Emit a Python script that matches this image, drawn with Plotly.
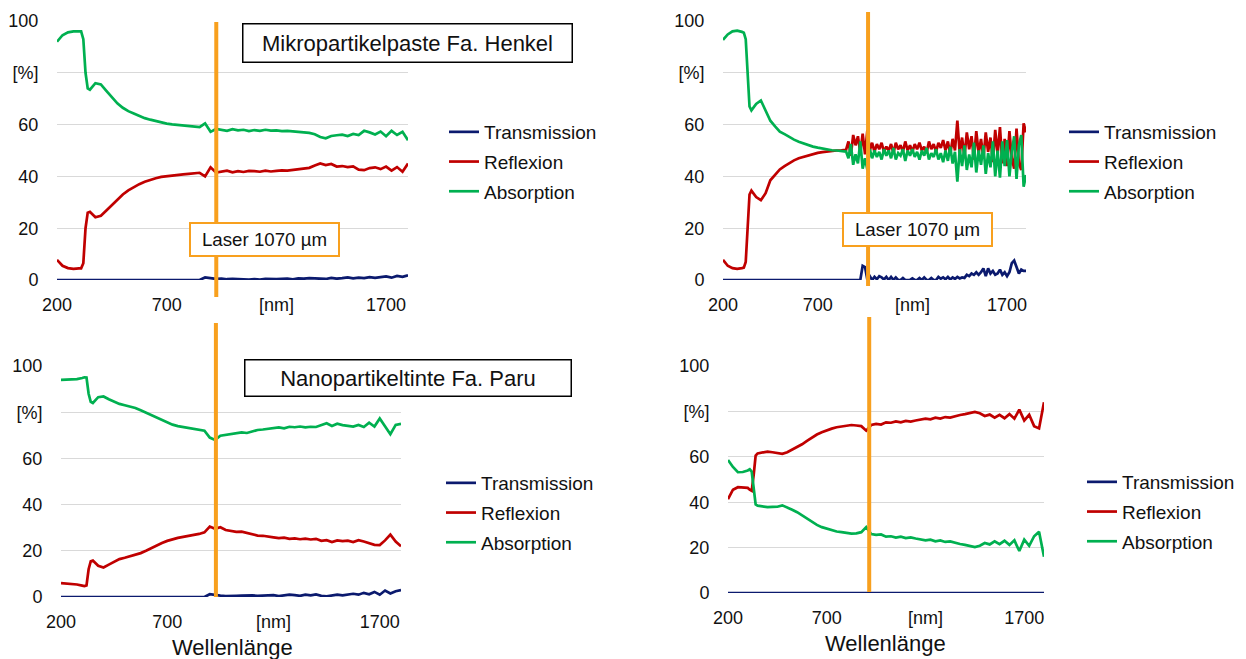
import plotly.graph_objects as go

W, H = 1246, 659

# wavelength grid for panels 1, 3, 4
wl_a = [200, 225, 250, 275, 300, 310, 320, 330, 340, 350,
        375, 400, 425, 450, 475, 500, 525, 550, 575, 600,
        625, 650, 675, 700, 725, 750, 775, 800, 825, 850,
        875, 900, 925, 950, 975, 1000, 1025, 1050, 1075, 1100,
        1125, 1150, 1175, 1200, 1225, 1250, 1275, 1300, 1325, 1350,
        1375, 1400, 1425, 1450, 1475, 1500, 1525, 1550, 1575, 1600,
        1625, 1650, 1675, 1700, 1725, 1750, 1775, 1800]

# wavelength grid for panel 2 (finer in the noisy range)
wl_b = [200, 225, 250, 275, 300, 310, 320, 330, 340, 350,
        375, 400, 425, 450, 475, 500, 525, 550, 575, 600,
        625, 650, 675, 700, 725, 750, 775, 800, 825,
        850, 862.5, 875, 887.5, 900, 912.5, 925, 937.5, 950, 962.5,
        975, 987.5, 1000, 1012.5, 1025, 1037.5, 1050, 1062.5, 1075, 1087.5,
        1100, 1112.5, 1125, 1137.5, 1150, 1162.5, 1175, 1187.5, 1200, 1212.5,
        1225, 1237.5, 1250, 1262.5, 1275, 1287.5, 1300, 1312.5, 1325, 1337.5,
        1350, 1362.5, 1375, 1387.5, 1400, 1412.5, 1425, 1437.5, 1450, 1462.5,
        1475, 1487.5, 1500, 1512.5, 1525, 1537.5, 1550, 1562.5, 1575, 1587.5,
        1600, 1612.5, 1625, 1637.5, 1650, 1662.5, 1675, 1687.5, 1700, 1712.5,
        1725, 1737.5, 1750, 1762.5, 1775, 1787.5, 1800]

# Panel 1: Mikropartikelpaste Fa. Henkel
trans_1 = [0, 0, 0, 0, 0, 0, 0, 0, 0, 0,
           0, 0, 0, 0, 0, 0, 0, 0, 0, 0,
           0, 0, 0, 0, 0, 0, 0, 0, 0, 0,
           1.0, 0.8, 0.4, 0.5, 0.3, 0.4, 0.3, 0.4, 0.2, 0.3,
           0.2, 0.4, 0.3, 0.3, 0.4, 0.5, 0.3, 0.6, 0.5, 0.7,
           0.6, 0.5, 0.4, 0.8, 0.5, 0.7, 1.0, 0.6, 0.9, 0.7,
           1.1, 0.8, 1.0, 1.4, 0.9, 1.6, 1.2, 1.8]
refl_1 = [7.8, 5.5, 4.6, 4.3, 4.5, 4.5, 6.5, 20.0, 26.0, 26.3,
          24.2, 24.8, 26.8, 29.0, 31.2, 33.0, 34.6, 35.9, 37.0, 37.9,
          38.7, 39.3, 39.8, 40.1, 40.4, 40.6, 40.8, 41.0, 41.2, 41.4,
          40.0, 43.5, 41.5, 41.8, 42.2, 41.6, 42.0, 41.7, 42.1, 42.0,
          41.8, 42.2, 41.9, 42.1, 42.3, 42.2, 42.5, 42.6, 43.0, 43.3,
          44.2, 45.0, 44.4, 44.8, 43.8, 44.0, 43.6, 43.9, 42.6, 42.4,
          43.2, 43.5, 42.8, 43.8, 42.2, 43.6, 41.8, 45.0]
abs_1 = [92.0, 94.5, 95.6, 96.0, 96.0, 96.0, 93.0, 80.0, 74.0, 73.5,
         76.0, 75.5, 73.0, 70.5, 68.2, 66.5, 65.2, 64.3, 63.3, 62.5,
         61.9, 61.3, 60.8, 60.4, 60.1, 59.9, 59.7, 59.5, 59.2, 59.0,
         60.5, 57.2, 58.3, 58.0, 57.6, 58.2, 57.8, 58.0, 57.5, 57.9,
         57.6, 58.0, 57.7, 57.8, 57.5, 57.6, 57.4, 57.2, 57.0, 56.8,
         56.3, 55.2, 54.7, 55.6, 55.9, 56.1, 55.6, 56.4, 56.0, 57.6,
         57.0, 56.2, 57.3, 55.5, 57.6, 56.0, 57.2, 54.0]

# Panel 2
trans_2 = [0, 0, 0, 0, 0, 0, 0, 0, 0, 0,
           0, 0, 0, 0, 0, 0, 0, 0, 0, 0,
           0, 0, 0, 0, 0, 0, 0, 0, 0,
           0, 0, 0, 0, 0, 0, 0, 5.5, 5.0, 0,
           1.5, 0, 1.2, 0.3, 1.5, 1.0, 0.2, 1.2, 0, 1.2,
           0, 1.0, 0, 0, 0.8, 0, 0, 0, 0.6, 0,
           0, 0.8, 0, 1.0, 0, 0, 0.8, 0, 0, 1.2,
           0.5, 1.0, 0.3, 1.2, 0.2, 1.0, 0.4, 1.2, 0.6, 1.0,
           0.8, 2.0, 1.5, 2.5, 2.0, 3.0, 2.0, 3.0, 4.5, 1.5,
           4.5, 2.5, 3.5, 2.0, 2.5, 4.0, 2.0, 3.0, 1.5, 3.0,
           6.5, 7.5, 5.0, 2.5, 4.0, 3.5, 3.5]
refl_2 = [7.8, 5.5, 4.6, 4.3, 4.6, 4.8, 7.0, 22.0, 33.0, 34.5,
          32.0, 30.8, 33.5, 38.5, 40.8, 42.7, 44.0, 45.2, 46.2, 47.0,
          47.6, 48.2, 48.7, 49.1, 49.4, 49.7, 49.9, 50.0, 50.1,
          50.3, 53.5, 48.0, 56.0, 52.0, 55.5, 49.0, 56.5, 48.5, 58.0,
          50.0, 53.0, 49.5, 52.5, 50.5, 53.0, 49.5, 51.5, 50.0, 52.5,
          49.0, 53.0, 50.5, 52.0, 49.5, 53.5, 50.0, 52.0, 49.5, 52.5,
          50.5, 53.0, 50.0, 51.5, 49.0, 53.5, 50.5, 52.5, 49.5, 53.0,
          51.0, 54.0, 50.0, 53.5, 48.5, 54.5, 50.0, 61.5, 49.0, 55.0,
          47.5, 57.0, 50.5, 55.5, 46.5, 57.5, 49.0, 54.5, 47.0, 57.0,
          49.5, 55.0, 45.5, 58.0, 48.5, 59.0, 45.0, 54.5, 44.0, 57.5,
          47.0, 43.0, 58.5, 45.0, 42.5, 60.5, 57.0]
abs_2 = [92.7, 94.8, 96.0, 96.3, 95.8, 95.5, 93.0, 78.0, 67.0, 65.5,
         68.0, 69.3, 65.5, 61.5, 59.3, 57.3, 56.3, 55.2, 54.2, 53.4,
         52.7, 52.1, 51.5, 51.1, 50.7, 50.4, 50.1, 50.0, 49.9,
         49.6, 47.0, 52.5, 44.5, 48.5, 45.0, 53.5, 43.0, 47.0, 42.5,
         50.5, 47.0, 50.0, 47.5, 49.5, 46.5, 50.5, 48.0, 50.0, 47.0,
         51.0, 46.5, 49.0, 48.0, 50.5, 46.0, 50.0, 48.0, 50.5, 47.5,
         49.5, 46.5, 50.0, 48.0, 51.0, 46.5, 49.0, 47.5, 50.5, 46.5,
         49.0, 45.5, 50.0, 46.0, 51.5, 45.0, 49.5, 38.0, 50.5, 44.0,
         52.0, 42.5, 48.5, 43.5, 53.0, 41.5, 50.0, 44.5, 52.0, 41.0,
         49.0, 43.5, 53.5, 40.0, 50.0, 39.5, 53.5, 44.0, 54.0, 40.0,
         49.5, 55.5, 39.0, 52.0, 56.0, 36.0, 40.5]

# Panel 3: Nanopartikeltinte Fa. Paru
trans_3 = [0, 0, 0, 0, 0, 0, 0, 0, 0, 0,
           0, 0, 0, 0, 0, 0, 0, 0, 0, 0,
           0, 0, 0, 0, 0, 0, 0, 0, 0, 0,
           0, 1.2, 0.8, 0.6, 0.4, 0.6, 0.5, 0.6, 0.8, 0.7,
           0.5, 0.6, 0.9, 0.8, 0.4, 0.8, 1.0, 0.8, 0.5, 1.0,
           0.7, 1.1, 0.5, 0.3, 0.6, 1.0, 0.7, 1.2, 1.4, 1.0,
           1.8, 1.2, 2.2, 1.0, 2.8, 1.5, 2.5, 3.0]
refl_3 = [6.0, 5.9, 5.7, 5.4, 4.9, 4.7, 5.0, 12.0, 15.5, 15.8,
          13.5, 12.8, 14.0, 15.2, 16.4, 17.0, 17.6, 18.2, 19.0, 20.0,
          21.2, 22.3, 23.4, 24.3, 25.0, 25.6, 26.0, 26.4, 26.8, 27.3,
          28.0, 30.5, 29.5, 30.2, 29.0, 28.6, 28.2, 28.3, 27.8, 27.3,
          26.6, 26.5, 26.0, 25.8, 25.5, 25.7, 25.2, 25.4, 25.0, 25.3,
          24.9, 25.2, 24.3, 24.6, 23.8, 24.5, 24.2, 24.4, 23.8, 24.6,
          24.0, 23.2, 22.6, 22.5, 24.5, 27.0, 24.0, 22.0]
abs_3 = [94.0, 94.0, 94.2, 94.3, 94.8, 95.1, 95.0, 88.0, 84.5, 84.0,
         86.5, 86.8, 85.6, 84.5, 83.6, 83.0, 82.4, 81.8, 80.8, 79.8,
         78.8, 77.6, 76.5, 75.5, 74.6, 74.0, 73.6, 73.2, 73.0, 72.7,
         72.0, 69.0, 68.0, 69.8, 70.2, 70.5, 71.0, 71.3, 71.0, 71.8,
         72.3, 72.5, 72.8, 73.0, 73.4, 73.0, 73.7, 73.5, 73.8, 73.4,
         73.7, 73.6, 74.5, 75.2, 74.0, 75.0, 74.4, 74.2, 73.8, 74.5,
         73.6, 75.5, 73.8, 77.3, 74.0, 70.5, 74.5, 75.0]

# Panel 4
trans_4 = [0, 0, 0, 0, 0, 0, 0, 0, 0, 0,
           0, 0, 0, 0, 0, 0, 0, 0, 0, 0,
           0, 0, 0, 0, 0, 0, 0, 0, 0, 0,
           0, 0, 0, 0, 0, 0, 0, 0, 0, 0,
           0, 0, 0, 0, 0, 0, 0, 0, 0, 0,
           0, 0, 0, 0, 0, 0, 0, 0, 0, 0,
           0, 0, 0, 0, 0, 0, 0, 0]
refl_4 = [41.3, 45.5, 46.6, 46.5, 46.3, 45.5, 45.0, 52.0, 60.5, 61.5,
          62.0, 62.3, 62.0, 61.8, 61.3, 62.0, 63.2, 64.2, 65.5, 67.0,
          68.5, 69.8, 70.8, 71.7, 72.4, 73.0, 73.4, 73.8, 74.0, 73.8,
          73.5, 71.5, 74.0, 74.5, 74.2, 75.2, 75.0, 75.6, 75.2, 75.8,
          75.5, 76.0, 76.3, 76.8, 76.5, 77.2, 76.8, 77.5, 77.3, 78.0,
          78.4, 78.8, 79.3, 79.8, 79.2, 78.0, 78.6, 77.2, 78.5, 77.0,
          78.8, 76.8, 80.8, 76.0, 78.5, 73.5, 72.5, 84.0]
abs_4 = [58.6, 55.5, 53.2, 53.3, 54.0, 54.5, 53.5, 46.0, 39.0, 38.5,
         38.0, 37.8, 37.9, 38.0, 38.6, 37.8, 36.7, 35.6, 34.2, 32.8,
         31.3, 30.0, 29.0, 28.3, 27.6, 27.1, 26.8, 26.4, 26.2, 26.3,
         26.8, 29.0, 26.0, 25.6, 25.8, 24.8, 25.0, 24.4, 24.8, 24.2,
         24.5, 24.0, 23.7, 23.2, 23.5, 22.8, 23.2, 22.5, 22.7, 22.0,
         21.6, 21.2, 20.7, 20.2, 20.8, 22.0, 21.4, 22.8, 21.5, 23.0,
         21.2, 23.2, 18.5, 23.5, 20.8, 25.0, 27.0, 16.0]

series_names = ["Transmission", "Reflexion", "Absorption"]
series_colors = ["#0B1A6E", "#C00000", "#00B050"]
panel_titles = ["Mikropartikelpaste Fa. Henkel", "Nanopartikeltinte Fa. Paru"]
laser_label = "Laser 1070 µm"
laser_pos = [926, 966, 929, 915]
x_ticks = [200, 700, 1200, 1700]
x_ticktext = ["200", "700", "[nm]", "1700"]
y_ticks = [0, 20, 40, 60, 80, 100]
y_ticktext = ["0", "20", "40", "60", "[%]", "100"]
x_title = "Wellenlänge"

panels = [
    (wl_a, trans_1, refl_1, abs_1),
    (wl_b, trans_2, refl_2, abs_2),
    (wl_a, trans_3, refl_3, abs_3),
    (wl_a, trans_4, refl_4, abs_4),
]
for p in panels:
    for s in p[1:]:
        assert len(s) == len(p[0]), (len(s), len(p[0]))

# pixel layout of plot areas: (left, right, top, bottom)
boxes = [(57, 408, 21, 280), (723, 1026, 21, 280), (61, 401, 366, 597), (728, 1044, 366, 593)]
legend_pos = [(444, 113), (1064, 113), (441, 464), (1082, 463)]
orange = "#F8A01E"
FONT = "Liberation Sans, Arial, sans-serif"
TXT = "#111111"


def px(x):
    return x / W


def py(y):
    return 1 - y / H


fig = go.Figure()
layout = dict(
    width=W, height=H, margin=dict(l=0, r=0, t=0, b=0, autoexpand=False),
    paper_bgcolor="white", plot_bgcolor="white",
    font=dict(family=FONT, size=18, color=TXT),
    showlegend=True,
)
shapes = []
annotations = []

for i, (box, data) in enumerate(zip(boxes, panels)):
    n = "" if i == 0 else str(i + 1)
    l, r, t, b = box
    leg = "legend" if i == 0 else f"legend{i+1}"
    xs = data[0]
    for j in range(3):
        fig.add_trace(go.Scatter(
            x=xs, y=data[j + 1], mode="lines", name=series_names[j],
            line=dict(color=series_colors[j], width=2.7),
            xaxis="x" + n, yaxis="y" + n, legend=leg, legendgroup=f"g{i}{j}",
        ))
    layout["xaxis" + n] = dict(
        domain=[px(l), px(r)], range=[200, 1800], anchor="y" + n,
        tickvals=x_ticks, ticktext=x_ticktext, showgrid=False, zeroline=False,
        showline=False, ticks="outside", ticklen=8, tickcolor="rgba(0,0,0,0)",
        tickfont=dict(size=18, color=TXT, family=FONT), automargin=False,
    )
    layout["yaxis" + n] = dict(
        domain=[py(b), py(t)], range=[0, 100], anchor="x" + n,
        tickvals=y_ticks, ticktext=y_ticktext, showgrid=True, gridcolor="#D9D9D9",
        gridwidth=1, zeroline=False, showline=False, ticks="outside", ticklen=14,
        tickcolor="rgba(0,0,0,0)", tickfont=dict(size=18, color=TXT, family=FONT),
        automargin=False,
    )
    lx, ly = legend_pos[i]
    layout[leg] = dict(
        x=px(lx), y=py(ly), xanchor="left", yanchor="top", bgcolor="rgba(0,0,0,0)",
        font=dict(size=19, color=TXT, family=FONT), tracegroupgap=2, itemwidth=30,
    )

# laser marker lines (x in data units of each panel)
laser_spans = [(22, 297), (12, 286), (323, 597), (317, 592)]
for i, (y0, y1) in enumerate(laser_spans):
    n = "" if i == 0 else str(i + 1)
    shapes.append(dict(type="line", xref="x" + n, yref="paper", x0=laser_pos[i], x1=laser_pos[i],
                       y0=py(y1), y1=py(y0), line=dict(color=orange, width=4), layer="above"))

# laser labels
for (cx, cy) in [(264.5, 239.5), (917.5, 229.5)]:
    annotations.append(dict(
        text=laser_label, x=px(cx), y=py(cy), xref="paper", yref="paper", showarrow=False,
        xanchor="center", yanchor="middle", width=147, height=31, bgcolor="white",
        bordercolor=orange, borderwidth=2, borderpad=0,
        font=dict(size=18.7, color=TXT, family=FONT),
    ))

# panel titles
for (cx, cy, w, h), title in zip([(407, 42.5, 328, 37), (408.5, 377.5, 325, 35)], panel_titles):
    annotations.append(dict(
        text=title, x=px(cx), y=py(cy), xref="paper", yref="paper", showarrow=False,
        xanchor="center", yanchor="middle", width=w, height=h, bgcolor="white",
        bordercolor="#000000", borderwidth=1.5, borderpad=0,
        font=dict(size=22, color=TXT, family=FONT),
    ))

# x axis titles
for (cx, cy) in [(232, 647), (885, 643)]:
    annotations.append(dict(
        text=x_title, x=px(cx), y=py(cy), xref="paper", yref="paper", showarrow=False,
        xanchor="center", yanchor="middle", font=dict(size=22, color=TXT, family=FONT),
    ))

layout["shapes"] = shapes
layout["annotations"] = annotations
fig.update_layout(**layout)
fig.write_html(
    "out.html",
    config={"displayModeBar": False},
    post_script="document.body.style.margin='0px';document.body.style.overflow='hidden';",
)
